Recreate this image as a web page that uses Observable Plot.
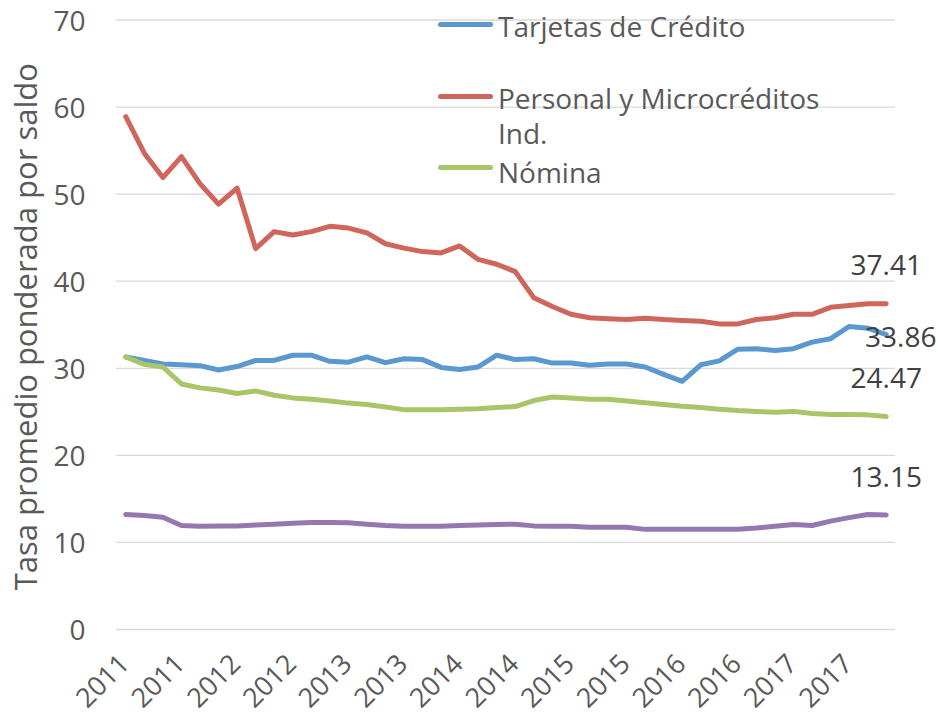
<!DOCTYPE html>
<html><head><meta charset="utf-8">
<script src="https://cdn.jsdelivr.net/npm/d3@7"></script>
<script src="https://cdn.jsdelivr.net/npm/@observablehq/plot@0.6"></script>
<style>
body{margin:0;background:#fff;font-family:"Open Sans",sans-serif;}
#wrap{position:relative;width:938px;height:715px;}
.item{position:absolute;left:438px;width:420px;font-size:28px;color:#595959;}
.item .sw{position:absolute;left:0;width:55px;height:5px;border-radius:3px;}
.item .lab{margin-left:60px;width:330px;}
</style></head>
<body><div id="wrap"></div>
<script>
const seriesNames = ["Tarjetas de Crédito", "Personal y Microcréditos Ind.", "Nómina", "Serie 4"];
const legendNames = ["Tarjetas de Crédito", "Personal y Microcréditos Ind.", "Nómina"];
const colors = ["#5b98cf", "#d0655b", "#a8c568", "#9479b1"];
const xLabels = ["2011","2011","2012","2012","2013","2013","2014","2014","2015","2015","2016","2016","2017","2017"];
const yTicks = [0,10,20,30,40,50,60,70];
const yTitle = "Tasa promedio ponderada por saldo";

const tarjetas = [31.3,30.9,30.5,30.4,30.3,29.8,30.2,30.9,30.9,31.5,31.5,30.8,30.7,31.3,30.65,31.1,31.0,30.1,29.85,30.15,31.5,
  31.0,31.1,30.6,30.6,30.35,30.5,30.5,30.15,29.3,28.5,30.4,30.85,32.2,32.25,32.05,32.25,33.0,33.4,34.8,34.6,33.86];
const personal = [58.9,54.7,51.9,54.3,51.2,48.85,50.7,43.75,45.7,45.3,45.7,46.3,46.1,45.55,44.3,43.8,43.4,43.25,44.05,42.5,41.95,
  41.1,38.1,37.1,36.2,35.8,35.7,35.6,35.75,35.6,35.5,35.4,35.1,35.1,35.6,35.8,36.2,36.2,37.0,37.2,37.4,37.41];
const nomina = [31.3,30.45,30.15,28.2,27.75,27.5,27.1,27.4,26.9,26.6,26.45,26.25,26.0,25.85,25.55,25.25,25.25,25.25,25.3,25.35,25.5,
  25.6,26.3,26.7,26.6,26.45,26.45,26.25,26.05,25.85,25.65,25.5,25.3,25.15,25.05,24.95,25.05,24.8,24.7,24.7,24.65,24.47];
const serie4 = [13.2,13.1,12.9,11.95,11.85,11.9,11.9,12.0,12.1,12.2,12.3,12.3,12.25,12.1,11.95,11.85,11.85,11.85,11.95,12.0,12.05,
  12.1,11.9,11.85,11.85,11.75,11.75,11.75,11.5,11.5,11.5,11.5,11.5,11.5,11.65,11.85,12.05,11.95,12.45,12.85,13.2,13.15];

const allSeries = [tarjetas, personal, nomina, serie4];
const rows = [];
allSeries.forEach((arr, k) => arr.forEach((v, i) => rows.push({i, v, s: seriesNames[k]})));
const last = allSeries.map((arr, k) => ({i: arr.length - 1, v: arr[arr.length - 1], s: seriesNames[k]}));
const xTickIdx = xLabels.map((_, j) => j * 3);

const chart = Plot.plot({
  width: 938, height: 715,
  marginLeft: 116, marginRight: 43, marginTop: 19.5, marginBottom: 86,
  style: {fontFamily: "'Open Sans', sans-serif", fontSize: "28px", color: "#595959", background: "white", overflow: "visible"},
  x: {domain: [-0.5, 41.5]},
  y: {domain: [0, 70]},
  color: {domain: seriesNames, range: colors},
  marks: [
    Plot.gridY(yTicks, {stroke: "#d9d9d9", strokeOpacity: 1, strokeWidth: 1.3}),
    Plot.axisY(yTicks, {tickSize: 0, tickPadding: 31, dy: 2, fontSize: 28, fill: "#595959", label: null}),
    Plot.axisX(xTickIdx, {tickSize: 0, tickRotate: -45, tickPadding: 30, dx: -1,
      tickFormat: d => xLabels[d / 3], fontSize: 27, fill: "#595959", label: null}),
    Plot.line(rows, {x: "i", y: "v", z: "s", stroke: "s", strokeWidth: 5, strokeLinecap: "round", strokeLinejoin: "round"}),
    Plot.text(last.filter(d => d.s !== seriesNames[0]), {x: "i", y: "v", text: d => d.v.toFixed(2),
      dy: -28.5, lineAnchor: "bottom", textAnchor: "middle", fill: "#404040", fontSize: 28}),
    Plot.text(last.filter(d => d.s === seriesNames[0]), {x: "i", y: "v", text: d => d.v.toFixed(2),
      dx: 14.5, dy: 12.6, lineAnchor: "bottom", textAnchor: "middle", fill: "#404040", fontSize: 28}),
    Plot.text([yTitle], {frameAnchor: "left", rotate: -90, dx: -89, dy: 2, textAnchor: "middle", fontSize: 31, fill: "#595959"})
  ]
});
const wrap = document.getElementById("wrap");
wrap.appendChild(chart);

const legendLayout = [
  {top: 12.1, lh: 28, sw: 10.1},
  {top: 80.6, lh: 35, sw: 13.2},
  {top: 157.5, lh: 28, sw: 7.7}
];
legendNames.forEach((name, k) => {
  const L = legendLayout[k];
  const item = document.createElement("div");
  item.className = "item";
  item.style.top = L.top + "px";
  item.style.lineHeight = L.lh + "px";
  const sw = document.createElement("div");
  sw.className = "sw";
  sw.style.top = L.sw + "px";
  sw.style.background = colors[k];
  const lab = document.createElement("div");
  lab.className = "lab";
  lab.textContent = name;
  item.appendChild(sw);
  item.appendChild(lab);
  wrap.appendChild(item);
});
</script>
</body></html>
